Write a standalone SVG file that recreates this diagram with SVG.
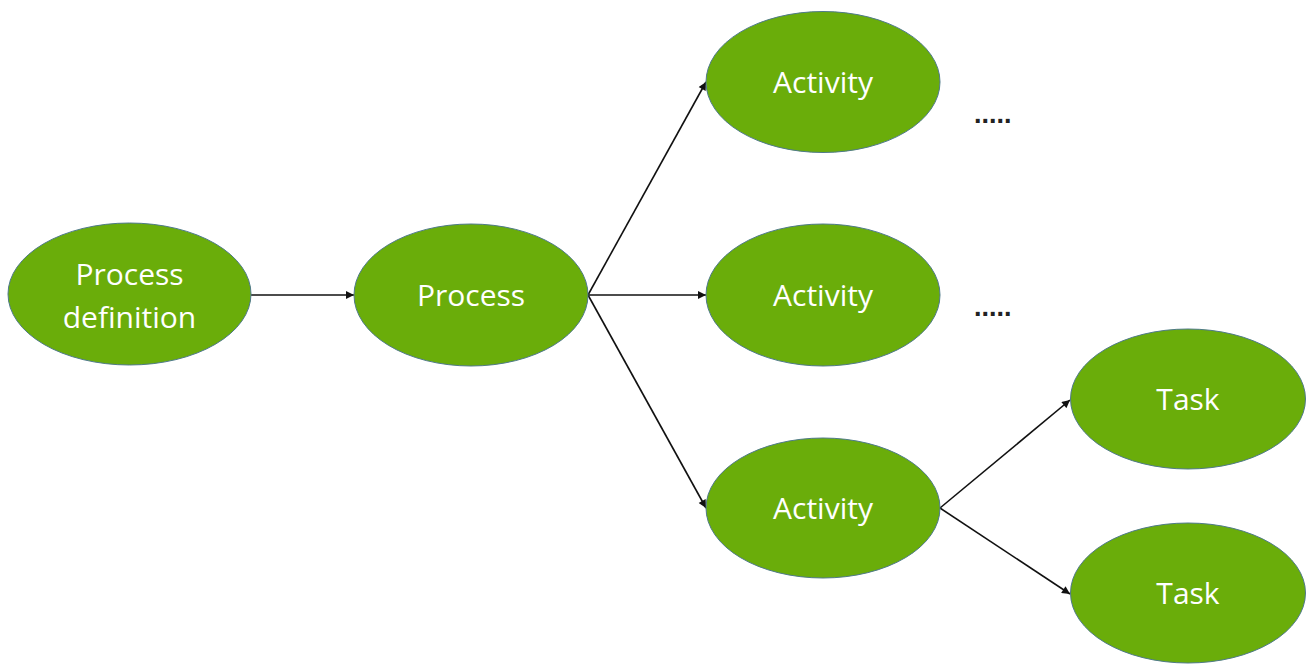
<svg xmlns="http://www.w3.org/2000/svg" width="1311" height="664" viewBox="0 0 1311 664">
<style>
.n{fill:#6aad0a;stroke:#4f7a8a;stroke-width:1}
.t{fill:#fff;font-family:"Open Sans","Liberation Sans",sans-serif;font-size:30px;font-weight:500;text-anchor:middle}
.c{stroke:#111;stroke-width:1.6;fill:none;marker-end:url(#a)}
.d{fill:#222;font-family:"Liberation Sans",sans-serif;font-size:27px;font-weight:bold}
</style>
<defs>
<marker id="a" viewBox="0 0 10 10" refX="10" refY="5" markerWidth="9" markerHeight="8" orient="auto" markerUnits="userSpaceOnUse">
<path d="M0,0 L10,5 L0,10 z" fill="#111"/>
</marker>
</defs>
<rect width="1311" height="664" fill="#fff"/>
<g id="connectors">
<line class="c" x1="251" y1="295" x2="354" y2="295"/>
<line class="c" x1="588" y1="295" x2="706" y2="82"/>
<line class="c" x1="588" y1="295" x2="706" y2="295"/>
<line class="c" x1="588" y1="295" x2="706" y2="508"/>
<line class="c" x1="940" y1="508" x2="1070" y2="400"/>
<line class="c" x1="940" y1="508" x2="1070" y2="594"/>
</g>
<g id="process-definition"><ellipse class="n" cx="129.5" cy="294" rx="121.5" ry="71"/><text class="t" x="129.5" y="285">Process</text><text class="t" x="129.5" y="328">definition</text></g>
<g id="process"><ellipse class="n" cx="471" cy="295" rx="117" ry="71"/><text class="t" x="471" y="306">Process</text></g>
<g id="activity1"><ellipse class="n" cx="823" cy="82" rx="117" ry="70.5"/><text class="t" x="823" y="93">Activity</text></g>
<g id="activity2"><ellipse class="n" cx="823" cy="295" rx="117" ry="71"/><text class="t" x="823" y="306">Activity</text></g>
<g id="activity3"><ellipse class="n" cx="823" cy="508" rx="117" ry="70"/><text class="t" x="823" y="519">Activity</text></g>
<g id="task1"><ellipse class="n" cx="1188" cy="399" rx="117.5" ry="70"/><text class="t" x="1188" y="410">Task</text></g>
<g id="task2"><ellipse class="n" cx="1188" cy="593" rx="117.5" ry="70"/><text class="t" x="1188" y="604">Task</text></g>
<g id="dots1"><text class="d" x="974" y="123">.....</text></g>
<g id="dots2"><text class="d" x="974" y="316">.....</text></g>
</svg>
